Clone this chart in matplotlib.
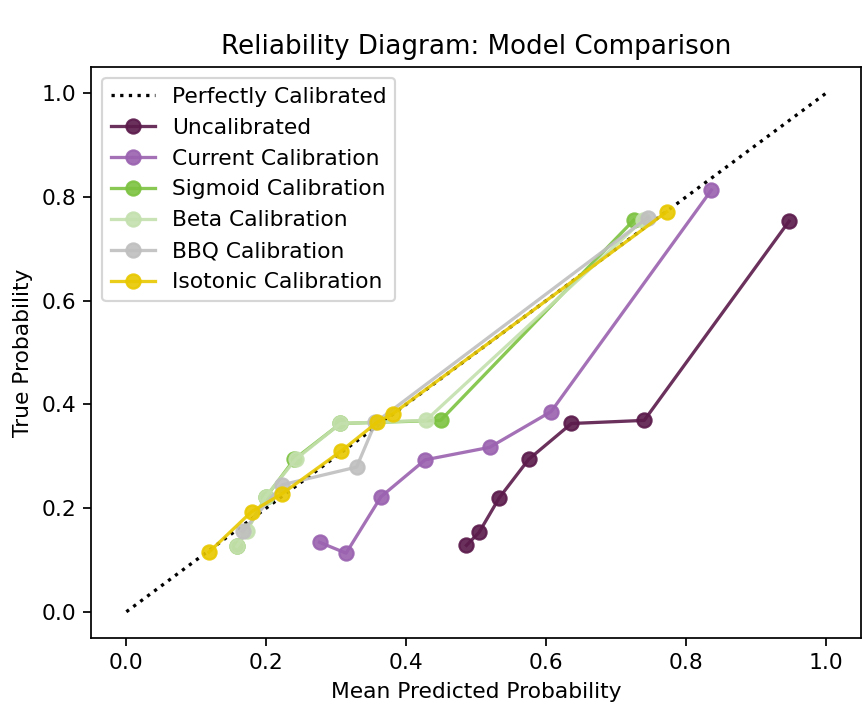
import matplotlib
matplotlib.use("Agg")
import matplotlib.pyplot as plt

# mean predicted probability / true probability per bin
uncal_x = [0.486, 0.504, 0.533, 0.575, 0.636, 0.740, 0.947]
uncal_y = [0.128, 0.153, 0.220, 0.294, 0.363, 0.369, 0.753]

current_x = [0.276, 0.314, 0.364, 0.427, 0.519, 0.607, 0.836]
current_y = [0.134, 0.113, 0.222, 0.293, 0.317, 0.386, 0.813]

sigmoid_x = [0.158, 0.200, 0.240, 0.306, 0.449, 0.725]
sigmoid_y = [0.126, 0.222, 0.294, 0.363, 0.369, 0.755]

beta_x = [0.158, 0.172, 0.199, 0.242, 0.306, 0.428, 0.738]
beta_y = [0.126, 0.155, 0.222, 0.294, 0.363, 0.369, 0.755]

bbq_x = [0.166, 0.223, 0.329, 0.356, 0.745]
bbq_y = [0.155, 0.245, 0.279, 0.365, 0.760]

iso_x = [0.118, 0.179, 0.223, 0.307, 0.358, 0.381, 0.772]
iso_y = [0.115, 0.193, 0.228, 0.310, 0.365, 0.382, 0.771]

DPI = 157
fig, ax = plt.subplots(figsize=(862 / DPI, 707 / DPI), dpi=DPI)
fig.subplots_adjust(left=0.106, right=0.999, top=0.905, bottom=0.098)

ms = 6.5
ax.plot([0, 1], [0, 1], "k:", label="Perfectly Calibrated")
ax.plot(uncal_x, uncal_y, "o-", color="#5b1a4b", alpha=0.9, ms=ms, label="Uncalibrated")
ax.plot(current_x, current_y, "o-", color="#9a62b0", alpha=0.9, ms=ms, label="Current Calibration")
ax.plot(sigmoid_x, sigmoid_y, "o-", color="#7cc240", alpha=0.9, ms=ms, label="Sigmoid Calibration")
ax.plot(beta_x, beta_y, "o-", color="#c4e0ae", alpha=0.9, ms=ms, label="Beta Calibration")
ax.plot(bbq_x, bbq_y, "o-", color="#bfbfbf", alpha=0.9, ms=ms, label="BBQ Calibration")
ax.plot(iso_x, iso_y, "o-", color="#e8c800", alpha=0.9, ms=ms, label="Isotonic Calibration")

ax.set_xlim(-0.05, 1.05)
ax.set_ylim(-0.05, 1.05)
ax.set_xlabel("Mean Predicted Probability")
ax.set_ylabel("True Probability")
ax.set_title("Reliability Diagram: Model Comparison")
ax.legend(loc="upper left")

plt.savefig("out.png", dpi=DPI)
